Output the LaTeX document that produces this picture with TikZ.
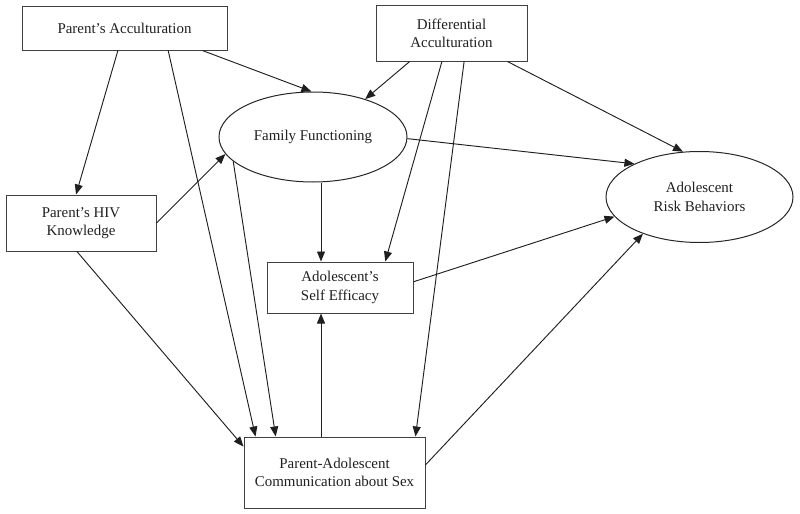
\documentclass[tikz,border=0pt]{standalone}
\usepackage{fontspec}
\setmainfont{Liberation Serif}
\usetikzlibrary{arrows.meta,calc,shapes.geometric}
\begin{document}
\begin{tikzpicture}[x=0.75pt,y=-0.75pt,
  every node/.style={font=\fontsize{11.2}{13.7}\selectfont, text=black!88, align=center, inner sep=0pt},
  boxnode/.style={draw=black!75, line width=0.75pt, rectangle},
  ellnode/.style={draw=black!85, line width=0.75pt, ellipse},
  arr/.style={draw=black!88, line width=0.7pt, -{Triangle[length=7.5pt,width=6pt]}}]
\useasboundingbox (0,0) rectangle (800,514);
\node[boxnode, minimum width=153.75pt, minimum height=33pt] (pa) at (124.5,28) {Parent’s Acculturation};
\node[boxnode, minimum width=113.25pt, minimum height=42pt] (da) at (451.5,33) {Differential\\Acculturation};
\node[ellnode, minimum width=141pt, minimum height=67.5pt] (ff) at (313,137) {Family Functioning};
\node[boxnode, minimum width=112.5pt, minimum height=42pt] (hiv) at (81,223) {Parent’s HIV\\Knowledge};
\node[boxnode, minimum width=109.5pt, minimum height=38.25pt] (ase) at (340,287.5) {Adolescent’s\\Self Efficacy};
\node[boxnode, minimum width=135.75pt, minimum height=53.25pt] (pac) at (334.5,472.5) {Parent-Adolescent\\Communication about Sex};
\node[ellnode, minimum width=140.25pt, minimum height=68.25pt] (arb) at (699.5,197) {Adolescent\\Risk Behaviors};

\coordinate (cx) at (321,0);
% Parent's Acculturation
\draw[arr] ($(pa.south west)!0.468!(pa.south east)$) -- ($(hiv.north west)!0.467!(hiv.north east)$);
\draw[arr] ($(pa.south west)!0.712!(pa.south east)$) -- ($(pac.north west)!0.066!(pac.north east)$);
\draw[arr] ($(pa.south west)!0.878!(pa.south east)$) -- (ff.92);
% HIV knowledge
\draw[arr] (hiv.east) -- (ff.191);
\draw[arr] ($(hiv.south west)!0.473!(hiv.south east)$) -- ($(pac.north west)!0.14!(pac.south west)$);
% Family functioning
\draw[arr] (ff.197) -- ($(pac.north west)!0.177!(pac.north east)$);
\draw[arr] (cx |- ff.south) -- (cx |- ase.north);
\draw[arr] (ff.-1) -- (arb.153);
% Differential acculturation
\draw[arr] ($(da.south west)!0.225!(da.south east)$) -- (ff.36);
\draw[arr] ($(da.south west)!0.437!(da.south east)$) -- ($(ase.north west)!0.808!(ase.north east)$);
\draw[arr] ($(da.south west)!0.583!(da.south east)$) -- ($(pac.north west)!0.945!(pac.north east)$);
\draw[arr] ($(da.south west)!0.868!(da.south east)$) -- (arb.110);
% Self efficacy
\draw[arr] ($(ase.north east)!0.39!(ase.south east)$) -- (arb.193);
% Communication
\draw[arr] (cx |- pac.north) -- (cx |- ase.south);
\draw[arr] ($(pac.north east)!0.394!(pac.south east)$) -- (arb.213);
\end{tikzpicture}
\end{document}
